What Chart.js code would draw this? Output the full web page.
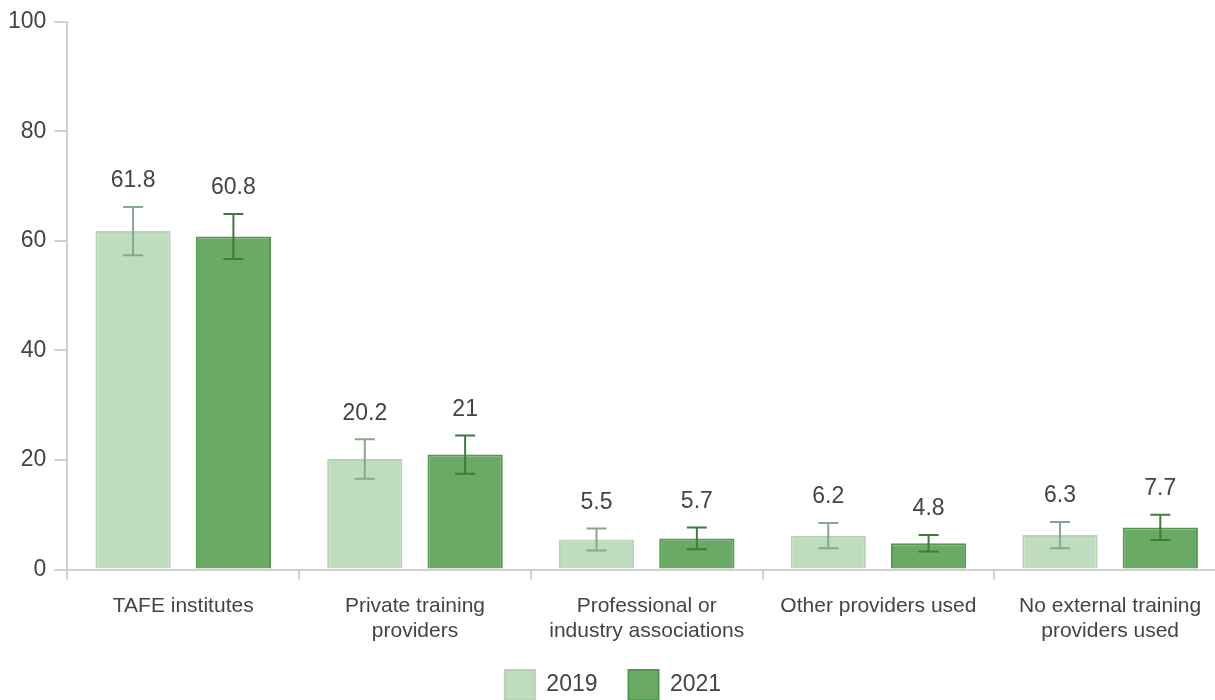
<!DOCTYPE html>
<html lang="en">
<head>
    <meta charset="UTF-8">
    <title>Training providers used</title>
    <script src="https://cdn.jsdelivr.net/npm/chart.js"></script>
    <style>
        body { margin: 0; overflow: hidden; background: #fff; }
        #wrap { width: 1236px; height: 700px; }
    </style>
</head>
<body>
    <div id="wrap">
        <canvas id="myChart"></canvas>
    </div>

    <script>
        // data
        const categories = [
            'TAFE institutes',
            ['Private training', 'providers'],
            ['Professional or', 'industry associations'],
            'Other providers used',
            ['No external training', 'providers used']
        ];
        const values2019 = [61.8, 20.2, 5.5, 6.2, 6.3];
        const values2021 = [60.8, 21, 5.7, 4.8, 7.7];
        // half width of the confidence intervals
        const err2019 = [4.4, 3.6, 2.0, 2.3, 2.4];
        const err2021 = [4.1, 3.5, 2.0, 1.5, 2.3];
        const yTicks = [0, 20, 40, 60, 80, 100];

        const errors = [err2019, err2021];
        const errColors = ['#8aa68a', '#3f7b3c'];
        const textColor = '#444444';
        const fontFamily = '"Liberation Sans", Arial, sans-serif';
        const xSqueeze = 19;  // the legend sits a bit into the x axis box

        // draws the error bars and the value labels above them
        const errorBarPlugin = {
            id: 'errorBars',
            afterLayout(chart) {
                // give the label clip area its room back
                chart.scales.x.bottom += xSqueeze;
            },
            afterDatasetsDraw(chart) {
                const ctx = chart.ctx;
                const y = chart.scales.y;
                chart.data.datasets.forEach((ds, i) => {
                    const meta = chart.getDatasetMeta(i);
                    meta.data.forEach((bar, j) => {
                        const v = ds.data[j];
                        const e = errors[i][j];
                        const top = y.getPixelForValue(v + e);
                        const bot = y.getPixelForValue(v - e);
                        ctx.save();
                        ctx.strokeStyle = errColors[i];
                        ctx.lineWidth = 2;
                        ctx.beginPath();
                        ctx.moveTo(bar.x, top);
                        ctx.lineTo(bar.x, bot);
                        ctx.moveTo(bar.x - 10, top);
                        ctx.lineTo(bar.x + 10, top);
                        ctx.moveTo(bar.x - 10, bot);
                        ctx.lineTo(bar.x + 10, bot);
                        ctx.stroke();
                        ctx.fillStyle = textColor;
                        ctx.font = '23px ' + fontFamily;
                        ctx.textAlign = 'center';
                        ctx.textBaseline = 'middle';
                        ctx.fillText(String(v), bar.x, top - 26);
                        ctx.restore();
                    });
                });
            }
        };

        const ctx = document.getElementById('myChart').getContext('2d');
        const myChart = new Chart(ctx, {
            type: 'bar',
            data: {
                labels: categories,
                datasets: [{
                    label: '2019',
                    data: values2019,
                    backgroundColor: '#c0dcbf',
                    borderColor: '#b2d4b0',
                    borderWidth: 2
                }, {
                    label: '2021',
                    data: values2021,
                    backgroundColor: '#6aa966',
                    borderColor: '#4f9a4b',
                    borderWidth: 2
                }]
            },
            options: {
                responsive: true,
                maintainAspectRatio: false,
                animation: false,
                categoryPercentage: 0.866,
                barPercentage: 0.75,
                layout: { padding: { top: 2, left: 0, right: 10, bottom: -10 } },
                plugins: {
                    tooltip: { enabled: false },
                    legend: {
                        position: 'bottom',
                        labels: {
                            boxWidth: 30,
                            boxHeight: 30,
                            padding: 31,
                            color: textColor,
                            font: { size: 23, family: fontFamily }
                        }
                    }
                },
                scales: {
                    x: {
                        afterFit(scale) {
                            scale.height -= xSqueeze;
                        },
                        border: { color: '#d0d0d0', width: 2 },
                        grid: {
                            drawOnChartArea: false,
                            drawTicks: true,
                            tickLength: 10,
                            color: '#d0d0d0',
                            lineWidth: 2
                        },
                        ticks: {
                            color: textColor,
                            padding: 14,
                            maxRotation: 0,
                            font: { size: 21, family: fontFamily, lineHeight: 1.2 }
                        }
                    },
                    y: {
                        min: 0,
                        max: 100,
                        afterBuildTicks(axis) {
                            axis.ticks = yTicks.map(v => ({ value: v }));
                        },
                        border: { color: '#d0d0d0', width: 2 },
                        grid: {
                            drawOnChartArea: false,
                            drawTicks: true,
                            tickLength: 13,
                            color: '#d0d0d0',
                            lineWidth: 2
                        },
                        ticks: {
                            color: textColor,
                            padding: 8,
                            font: { size: 23, family: fontFamily }
                        }
                    }
                }
            },
            plugins: [errorBarPlugin]
        });
    </script>
</body>
</html>
